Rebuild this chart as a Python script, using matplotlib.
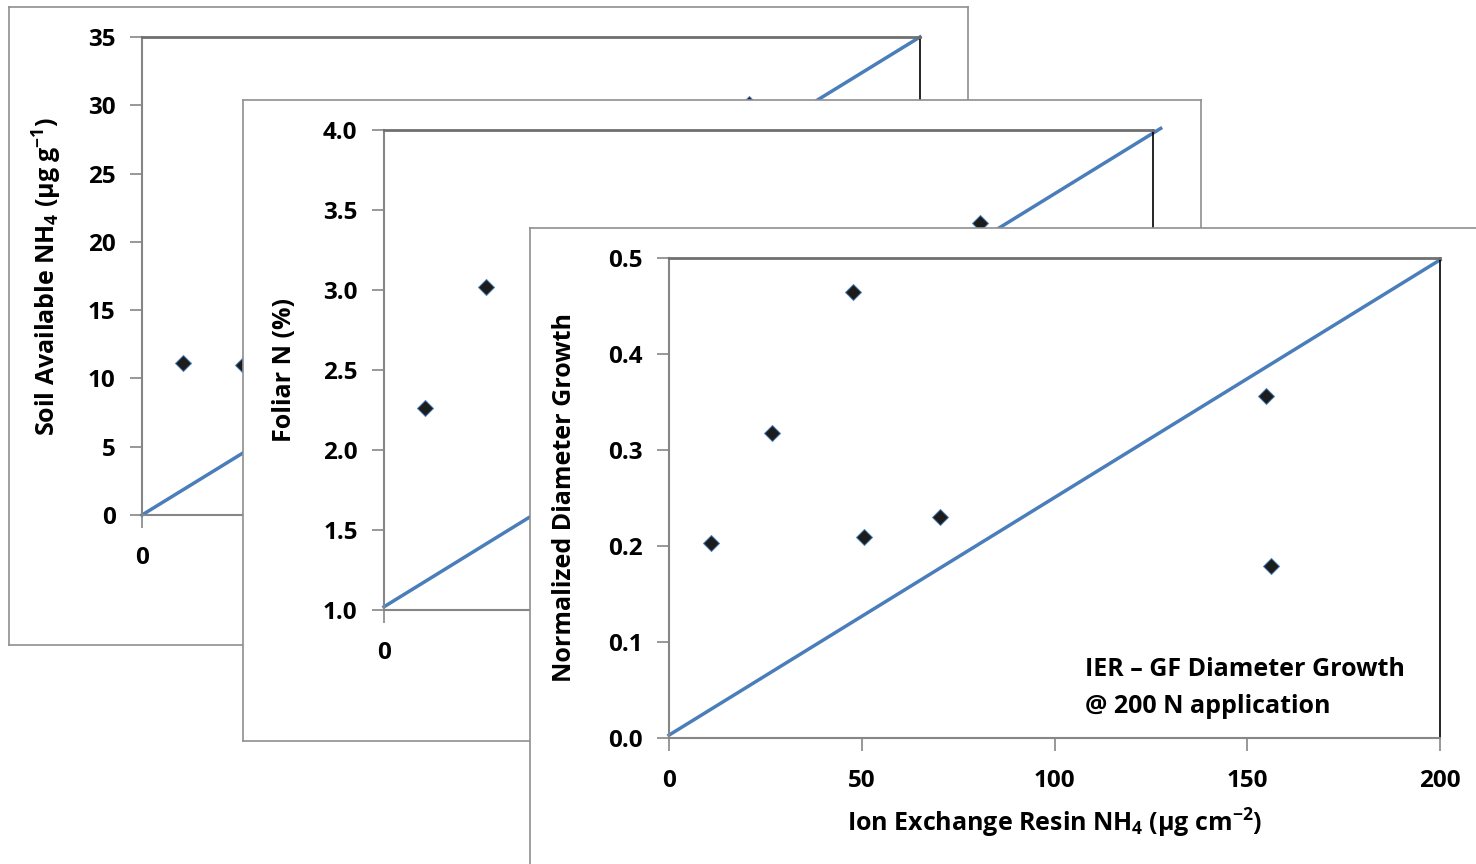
import matplotlib.pyplot as plt

plt.rcParams['font.family'] = ['Open Sans', 'DejaVu Sans']
plt.rcParams['mathtext.default'] = 'regular'

W, H = 1476, 864

# IER NH4 vs. soil available NH4
ier_soil = [10.5, 26.0, 156.0]
soil_nh4 = [11.1, 11.0, 30.1]
soil_line_x = [0, 200]
soil_line_y = [0, 35]

# IER NH4 vs. foliar N
ier_foliar = [10.7, 26.5, 155.0]
foliar_n = [2.26, 3.02, 3.42]
foliar_line_x = [0, 202]
foliar_line_y = [1.02, 4.01]

# IER NH4 vs. normalized diameter growth
ier_growth = [10.9, 26.7, 47.7, 50.6, 70.3, 154.9, 156.2]
diam_growth = [0.203, 0.318, 0.465, 0.209, 0.230, 0.356, 0.179]
growth_line_x = [0, 200]
growth_line_y = [0.003, 0.498]

x_ticks = [0, 50, 100, 150, 200]

LINE_BLUE = '#4a7ebb'
GRAY = '#868686'
TICK_SIZE = 17.5
LABEL_SIZE = 18


def rect(x0, y0, x1, y1):
    return [x0 / W, 1 - y1 / H, (x1 - x0) / W, (y1 - y0) / H]


def add_frame(fig, r):
    ax = fig.add_axes(r)
    ax.set_xticks([])
    ax.set_yticks([])
    ax.set_facecolor('white')
    for s in ax.spines.values():
        s.set_color('#8f8f8f')
        s.set_linewidth(1.2)
    return ax


def add_plot(fig, r, x, y, lx, ly, ylim, yticks, yfmt, ylabel, label_x):
    ax = fig.add_axes(r)
    ax.plot(lx, ly, color=LINE_BLUE, lw=2.5, clip_on=False, zorder=2)
    ax.plot(x, y, ls='none', marker='D', ms=8.5, mfc='#1c1c1c',
            mec=LINE_BLUE, mew=0.7, zorder=3)
    ax.set_xlim(0, 200)
    ax.set_ylim(*ylim)
    ax.set_xticks(x_ticks)
    ax.set_yticks(yticks)
    ax.set_yticklabels([yfmt.format(v) for v in yticks])
    ax.tick_params(direction='out', length=9, width=1.2, color=GRAY,
                   labelsize=TICK_SIZE, pad=10)
    ax.tick_params(axis='x', pad=13)
    for lab in ax.get_xticklabels() + ax.get_yticklabels():
        lab.set_fontweight('bold')
    ax.spines['left'].set_color(GRAY)
    ax.spines['left'].set_linewidth(1.5)
    ax.spines['bottom'].set_color(GRAY)
    ax.spines['bottom'].set_linewidth(1.5)
    ax.spines['top'].set_color('#707070')
    ax.spines['top'].set_linewidth(2)
    ax.spines['right'].set_color('black')
    ax.spines['right'].set_linewidth(1.2)
    ax.set_ylabel(ylabel, fontsize=LABEL_SIZE, fontweight='bold', va='center')
    ax.yaxis.set_label_coords(label_x, 0.5)
    return ax


fig = plt.figure(figsize=(W / 100, H / 100), dpi=100)

add_frame(fig, rect(9, 7, 968, 645))
add_plot(fig, rect(142, 37, 920, 515), ier_soil, soil_nh4,
         soil_line_x, soil_line_y, (0, 35), [0, 5, 10, 15, 20, 25, 30, 35],
         '{:.0f}', r'Soil Available NH$_4$ ($\mu$g g$^{-1}$)', -0.122)

add_frame(fig, rect(243, 100, 1201, 741))
add_plot(fig, rect(384, 130, 1153, 610), ier_foliar, foliar_n,
         foliar_line_x, foliar_line_y, (1.0, 4.0),
         [1.0, 1.5, 2.0, 2.5, 3.0, 3.5, 4.0], '{:.1f}', 'Foliar N (%)',
         -0.129)

add_frame(fig, rect(530, 228, 1495, 880))
ax3 = add_plot(fig, rect(669, 258, 1440, 738), ier_growth, diam_growth,
               growth_line_x, growth_line_y, (0, 0.5),
               [0.0, 0.1, 0.2, 0.3, 0.4, 0.5], '{:.1f}',
               'Normalized Diameter Growth', -0.135)
ax3.set_xlabel(r'Ion Exchange Resin NH$_4$ ($\mu$g cm$^{-2}$)',
               fontsize=LABEL_SIZE, fontweight='bold')
ax3.xaxis.set_label_coords(0.5, -0.177)
ax3.xaxis.label.set_va('center')
ax3.text(108, 0.052, 'IER \u2013 GF Diameter Growth\n@ 200 N application',
         fontsize=18, fontweight='bold', va='center', ha='left',
         linespacing=1.65)

fig.savefig('out.png', dpi=100)
